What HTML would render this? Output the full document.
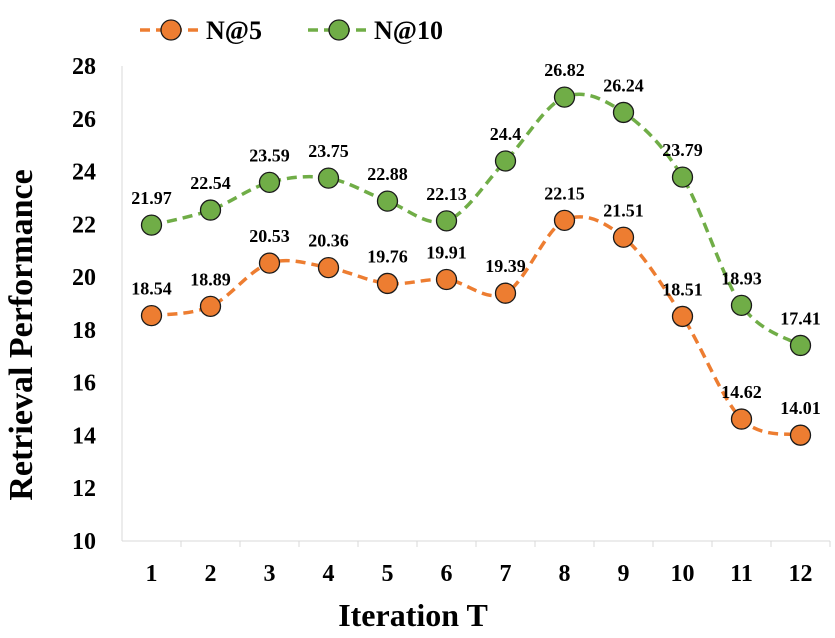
<!DOCTYPE html>
<html><head><meta charset="utf-8"><style>
body{margin:0;background:#fff}
svg{display:block;font-family:"Liberation Serif",serif;font-weight:bold}
</style></head><body>
<svg id="chart" width="835" height="638"></svg>
<script>
const categories=[1,2,3,4,5,6,7,8,9,10,11,12];
const n5=[18.54,18.89,20.53,20.36,19.76,19.91,19.39,22.15,21.51,18.51,14.62,14.01];
const n10=[21.97,22.54,23.59,23.75,22.88,22.13,24.4,26.82,26.24,23.79,18.93,17.41];
const yTicks=[10,12,14,16,18,20,22,24,26,28];
const NS="http://www.w3.org/2000/svg";
const svg=document.getElementById('chart');
const x0=122,x1=830,yTop=66,yBot=541,yMin=10,yMax=28;
const step=(x1-x0)/categories.length;
const xs=i=>x0+step*(i+0.5);
const ys=v=>yBot-(v-yMin)/(yMax-yMin)*(yBot-yTop);
function mk(t,a,p){const e=document.createElementNS(NS,t);for(const k in a)e.setAttribute(k,a[k]);(p||svg).appendChild(e);return e;}
let e=mk('line',{x1:x0,y1:yTop,x2:x0,y2:yBot,stroke:'#d9d9d9','stroke-width':1});


e=mk('line',{x1:x0,y1:yBot,x2:x1,y2:yBot,stroke:'#d9d9d9','stroke-width':1});


yTicks.forEach(v=>{
 const t=mk('text',{x:x0-26,y:ys(v)+8,'text-anchor':'end','font-size':24});t.textContent=v;
 
 
});
categories.forEach((c,i)=>{
 const t=mk('text',{x:xs(i),y:yBot+40,'text-anchor':'middle','font-size':24});t.textContent=c;
 
 
 const tk=mk('line',{x1:x0+step*(i+1),y1:yBot,x2:x0+step*(i+1),y2:yBot+6,stroke:'#d9d9d9'});
 
 
});
e=mk('text',{x:413,y:626,'text-anchor':'middle','font-size':32});e.textContent='Iteration T';


e=mk('text',{x:0,y:0,'text-anchor':'middle','font-size':34,transform:'translate(32,335) rotate(-90)'});e.textContent='Retrieval Performance';


function smooth(pts){
 let d=`M${pts[0][0]},${pts[0][1]}`;
 for(let i=0;i<pts.length-1;i++){
  const p0=pts[i-1]||pts[i],p1=pts[i],p2=pts[i+1],p3=pts[i+2]||p2,k=1/6;
  d+=` C${p1[0]+(p2[0]-p0[0])*k},${p1[1]+(p2[1]-p0[1])*k} ${p2[0]-(p3[0]-p1[0])*k},${p2[1]-(p3[1]-p1[1])*k} ${p2[0]},${p2[1]}`;
 }
 return d;
}
function series(vals,color,name){
 const pts=vals.map((v,i)=>[xs(i),ys(v)]);
 const p=mk('path',{d:smooth(pts),fill:'none',stroke:color,'stroke-width':3.5,'stroke-dasharray':'10,6'});
 
 
 vals.forEach((v,i)=>{
  const c=mk('circle',{cx:pts[i][0],cy:pts[i][1],r:10,fill:color,stroke:'#1a1a1a','stroke-width':1.3});
  
  
  const t=mk('text',{x:pts[i][0],y:pts[i][1]-21,'text-anchor':'middle','font-size':18});t.textContent=v;
  
  
 });
}
series(n5,'#ED7D31','n5');
series(n10,'#70AD47','n10');
function legend(x,color,label,name){
 const g=mk('g',{});
 
 
 mk('line',{x1:x,y1:30,x2:x+62,y2:30,stroke:color,'stroke-width':3.5,'stroke-dasharray':'10,6'},g);
 mk('circle',{cx:x+31,cy:30,r:10,fill:color,stroke:'#1a1a1a','stroke-width':1.3},g);
 const t=mk('text',{x:x+66,y:39,'font-size':26},g);t.textContent=label;
}
legend(140,'#ED7D31','N@5','n5');
legend(308,'#70AD47','N@10','n10');
</script>
</body></html>
